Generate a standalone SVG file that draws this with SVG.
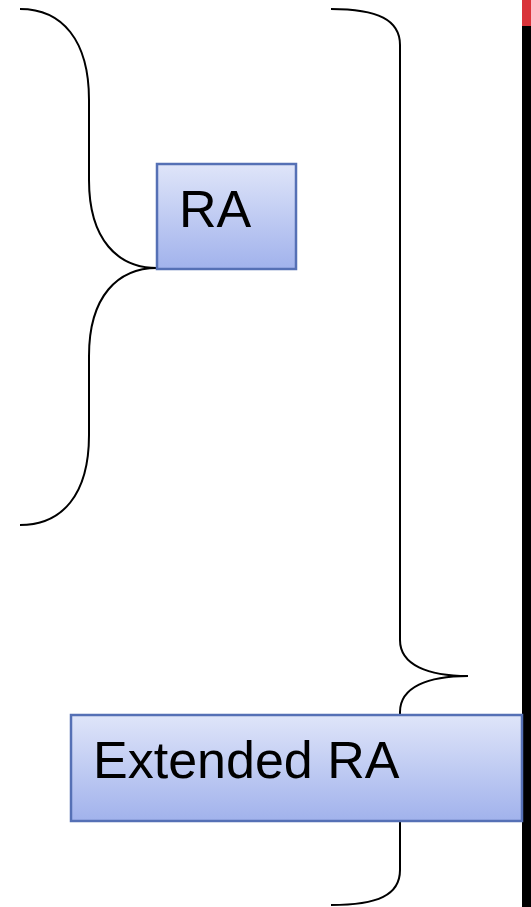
<svg xmlns="http://www.w3.org/2000/svg" width="531" height="907" viewBox="0 0 531 907">
<defs>
<linearGradient id="g" x1="0" y1="0" x2="0" y2="1">
<stop offset="0" stop-color="#dfe5f9"/>
<stop offset="1" stop-color="#a1b2ec"/>
</linearGradient>
<style>
.brace{fill:none;stroke:#000;stroke-width:2}
.box{fill:url(#g);stroke:#5570b5;stroke-width:2.5}
.lbl{font-family:"Liberation Sans",Arial,sans-serif;font-size:52px;fill:#000}
</style>
</defs>
<rect x="522" y="0" width="9" height="26" fill="#d9343a"/>
<rect x="522" y="26" width="9" height="881" fill="#000"/>
<g id="connectors">
<path class="brace" d="M20,9 C62,9 89,40 89,100 L89,180 C89,240 118,268 157,268 C118,268 89,296 89,356 L89,435 C89,495 62,525 20,525"/>
<path class="brace" d="M331,9 C378,9 400,20 400,45 L400,640 C400,665 428,676 468,676 C428,676 400,687 400,712 L400,870 C400,895 378,905 331,905"/>
</g>
<g id="ra">
<rect class="box" x="157" y="164" width="139" height="105"/>
<text class="lbl" x="179" y="227">RA</text>
</g>
<g id="extended-ra">
<rect class="box" x="71" y="715" width="451" height="106"/>
<text class="lbl" x="93" y="778">Extended RA</text>
</g>
</svg>
